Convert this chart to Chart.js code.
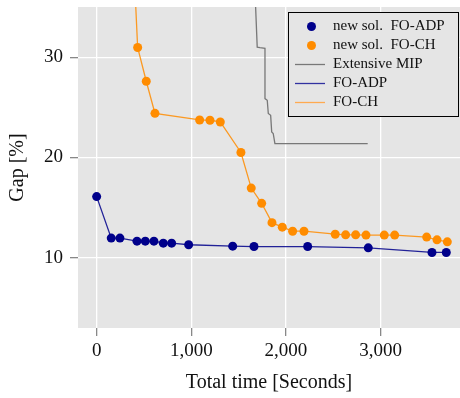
<!DOCTYPE html>
<html lang="en">
<head>
<meta charset="UTF-8">
<title>Gap over time</title>
<script src="https://cdn.jsdelivr.net/npm/chart.js"></script>
<style>
  html, body { margin: 0; padding: 0; background: #fff; }
  #wrap { width: 460px; height: 398px; }
</style>
</head>
<body>
<div id="wrap"><canvas id="gapChart"></canvas></div>
<script>
// FO-ADP: new solutions found (time in s, gap in %)
const adpTime = [0, 154, 246, 426, 514, 605, 704, 792, 972, 1437, 1662, 2229, 2869, 3542, 3693];
const adpGap  = [16.1, 11.96, 11.96, 11.66, 11.66, 11.66, 11.46, 11.46, 11.3, 11.16, 11.12, 11.12, 10.99, 10.53, 10.53];

// FO-CH: first point sits above the visible range
const chTime = [340, 433, 524, 616, 1088, 1197, 1306, 1524, 1633, 1743, 1852, 1961, 2070, 2190, 2520, 2630, 2736, 2845, 3038, 3148, 3486, 3595, 3704];
const chGap  = [50, 30.96, 27.6, 24.4, 23.74, 23.71, 23.54, 20.5, 16.95, 15.43, 13.5, 13.05, 12.65, 12.65, 12.35, 12.29, 12.29, 12.26, 12.26, 12.26, 12.06, 11.79, 11.59];

// Extensive MIP gap trace
const mipTime = [1658, 1696, 1725, 1778, 1778, 1802, 1813, 1838, 1849, 1865, 1883, 2863];
const mipGap  = [40, 31.0, 30.94, 30.87, 25.87, 25.7, 24.38, 24.2, 22.55, 22.39, 21.38, 21.38];

const xTicks = [0, 1000, 2000, 3000];
const yTicks = [10, 20, 30];

const NAVY = 'rgb(0,0,139)';
const ORANGE = 'rgb(255,140,0)';
const SERIF = '"Liberation Serif", "DejaVu Serif", serif';

const pts = (xs, ys) => xs.map((x, i) => ({ x: x, y: ys[i] }));

const legendItems = [
  { label: 'new sol.  FO-ADP', kind: 'dot', color: NAVY },
  { label: 'new sol.  FO-CH', kind: 'dot', color: ORANGE },
  { label: 'Extensive MIP', kind: 'line', color: 'rgb(120,120,120)' },
  { label: 'FO-ADP', kind: 'line', color: 'rgb(50,50,160)' },
  { label: 'FO-CH', kind: 'line', color: 'rgb(255,170,80)' }
];

const plotBg = {
  id: 'plotBg',
  beforeDraw(chart) {
    const a = chart.chartArea, c = chart.ctx;
    c.save();
    c.fillStyle = '#e5e5e5';
    c.fillRect(a.left, a.top, a.right - a.left, a.bottom - a.top);
    c.restore();
  }
};

const boxLegend = {
  id: 'boxLegend',
  afterDraw(chart) {
    const c = chart.ctx;
    const x0 = 288, y0 = 12, w = 170, h = 104;
    c.save();
    c.fillStyle = '#e5e5e5';
    c.fillRect(x0, y0, w, h);
    c.strokeStyle = '#000';
    c.lineWidth = 1;
    c.strokeRect(x0 + 0.5, y0 + 0.5, w, h);
    c.font = '15px ' + SERIF;
    c.textBaseline = 'middle';
    legendItems.forEach((it, i) => {
      const y = y0 + 14.5 + i * 19;
      if (it.kind === 'dot') {
        c.fillStyle = it.color;
        c.beginPath();
        c.arc(311.5, y, 4.5, 0, Math.PI * 2);
        c.fill();
      } else {
        c.strokeStyle = it.color;
        c.lineWidth = 1.3;
        c.beginPath();
        c.moveTo(295, y);
        c.lineTo(325, y);
        c.stroke();
      }
      c.fillStyle = '#111';
      c.fillText(it.label, 333, y);
    });
    c.restore();
  }
};

// drop the extra room Chart.js keeps for end tick labels
function noPad(s) {
  s.paddingTop = 0; s.paddingBottom = 0; s.paddingLeft = 0; s.paddingRight = 0;
}

new Chart(document.getElementById('gapChart'), {
  type: 'scatter',
  data: {
    datasets: [
      { label: 'Extensive MIP', data: pts(mipTime, mipGap), showLine: true, pointRadius: 0,
        borderColor: 'rgb(120,120,120)', borderWidth: 1.3, order: 3 },
      { label: 'FO-ADP', data: pts(adpTime, adpGap), showLine: true, pointRadius: 0,
        borderColor: 'rgba(0,0,139,0.85)', borderWidth: 1.3, order: 2 },
      { label: 'FO-CH', data: pts(chTime, chGap), showLine: true, pointRadius: 0,
        borderColor: 'rgba(255,140,0,0.85)', borderWidth: 1.3, order: 2 },
      { label: 'new sol. FO-ADP', data: pts(adpTime, adpGap), pointRadius: 4.5,
        backgroundColor: NAVY, borderWidth: 0, order: 0 },
      { label: 'new sol. FO-CH', data: pts(chTime, chGap), pointRadius: 4.5,
        backgroundColor: ORANGE, borderWidth: 0, order: 0 }
    ]
  },
  options: {
    responsive: true,
    maintainAspectRatio: false,
    animation: false,
    layout: { autoPadding: false, padding: { top: 7, right: 0, left: 0, bottom: 0 } },
    plugins: { legend: { display: false }, tooltip: { enabled: false } },
    scales: {
      x: {
        type: 'linear', min: -197, max: 3838,
        afterBuildTicks: s => { s.ticks = xTicks.map(v => ({ value: v })); },
        afterFit: s => { s.height = 70; noPad(s); },
        border: { display: false },
        grid: { color: '#ffffff', lineWidth: 1.3, tickColor: '#888', tickLength: 8, drawTicks: true },
        ticks: { color: '#111', font: { family: SERIF, size: 19 }, padding: 4,
                 callback: v => v.toLocaleString('en-US') },
        title: { display: true, text: 'Total time [Seconds]', color: '#111',
                 font: { family: SERIF, size: 20 }, padding: { top: 0, bottom: 3 } }
      },
      y: {
        type: 'linear', min: 3, max: 35,
        afterBuildTicks: s => { s.ticks = yTicks.map(v => ({ value: v })); },
        afterFit: s => { s.width = 78; noPad(s); },
        border: { display: false },
        grid: { color: '#ffffff', lineWidth: 1.3, tickColor: '#888', tickLength: 8 },
        ticks: { color: '#111', font: { family: SERIF, size: 19 }, padding: 7 },
        title: { display: true, text: 'Gap [%]', color: '#111',
                 font: { family: SERIF, size: 20 }, padding: { top: 6, bottom: 0 } }
      }
    }
  },
  plugins: [plotBg, boxLegend]
});
</script>
</body>
</html>
